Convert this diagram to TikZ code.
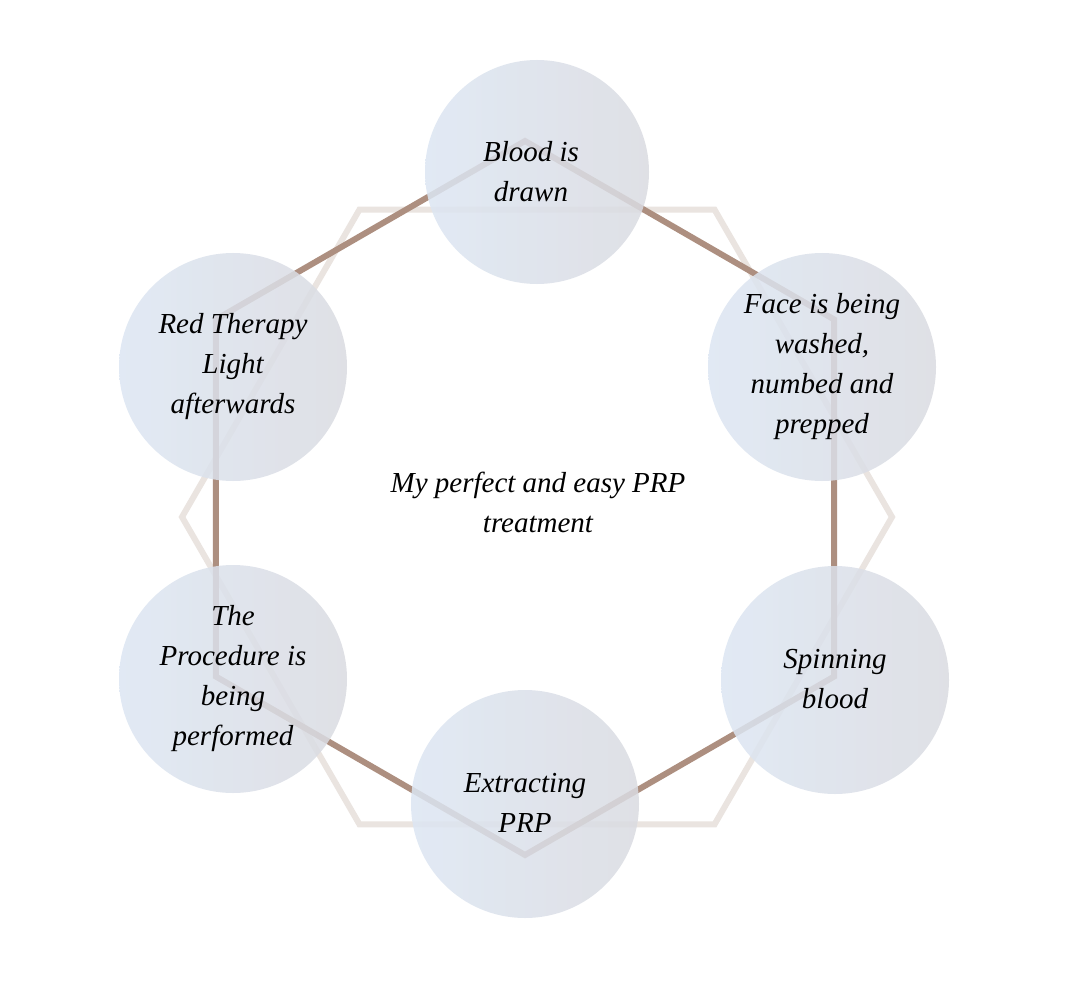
\documentclass[tikz,border=0pt]{standalone}
\usepackage{fontspec}
\setmainfont{Liberation Serif}
\begin{document}
\begin{tikzpicture}[x=1pt,y=-1pt,
  brownhex/.style={draw=hexbrown,line width=6pt,line join=miter},
  lighthex/.style={draw=hexlight,line width=6pt,line join=miter},
  bubble/.style={circle,minimum size=228pt,inner sep=0pt,draw=none,
     left color=bubL,right color=bubR,shading angle=90,fill opacity=0.85},
  lbl/.style={align=center,font=\itshape\fontsize{29}{40}\selectfont,text=black}]
\definecolor{hexbrown}{HTML}{AD8F80}
\definecolor{hexlight}{HTML}{EAE4E0}
\definecolor{bubL}{HTML}{DCE6F3}
\definecolor{bubR}{HTML}{DADBE1}
\useasboundingbox[fill=white] (0,0) rectangle (1086,1000);
% light flat-top hexagon
\coordinate (lc) at (537,517);
\draw[lighthex] (lc) ++(0:355) -- ++(120:355) -- ++(180:355) -- ++(240:355) -- ++(300:355) -- ++(0:355) -- cycle;
% brown pointy-top hexagon
\coordinate (bc) at (525,498);
\draw[brownhex] (bc) ++(90:357) -- ++(-30:357) -- ++(-90:357) -- ++(-150:357) -- ++(150:357) -- ++(90:357) -- cycle;
% bubbles
\node[bubble,minimum size=224pt] (c1) at (537,172) {};
\node[bubble] (c2) at (822,367) {};
\node[bubble] (c3) at (835,680) {};
\node[bubble] (c4) at (525,804) {};
\node[bubble] (c5) at (233,679) {};
\node[bubble] (c6) at (233,367) {};
% labels
\node[lbl] (t1) at (531,172) {Blood is\\drawn};
\node[lbl] (t2) at (822,367) {Face is being\\washed,\\numbed and\\prepped};
\node[lbl] (t3) at (835,679) {Spinning\\blood};
\node[lbl] (t4) at (525,803) {Extracting\\PRP};
\node[lbl] (t5) at (233,679) {The\\Procedure is\\being\\performed};
\node[lbl] (t6) at (233,367) {Red Therapy\\Light\\afterwards};
\node[lbl] (tc) at (538,502) {My perfect and easy PRP\\treatment};
\end{tikzpicture}
\end{document}
